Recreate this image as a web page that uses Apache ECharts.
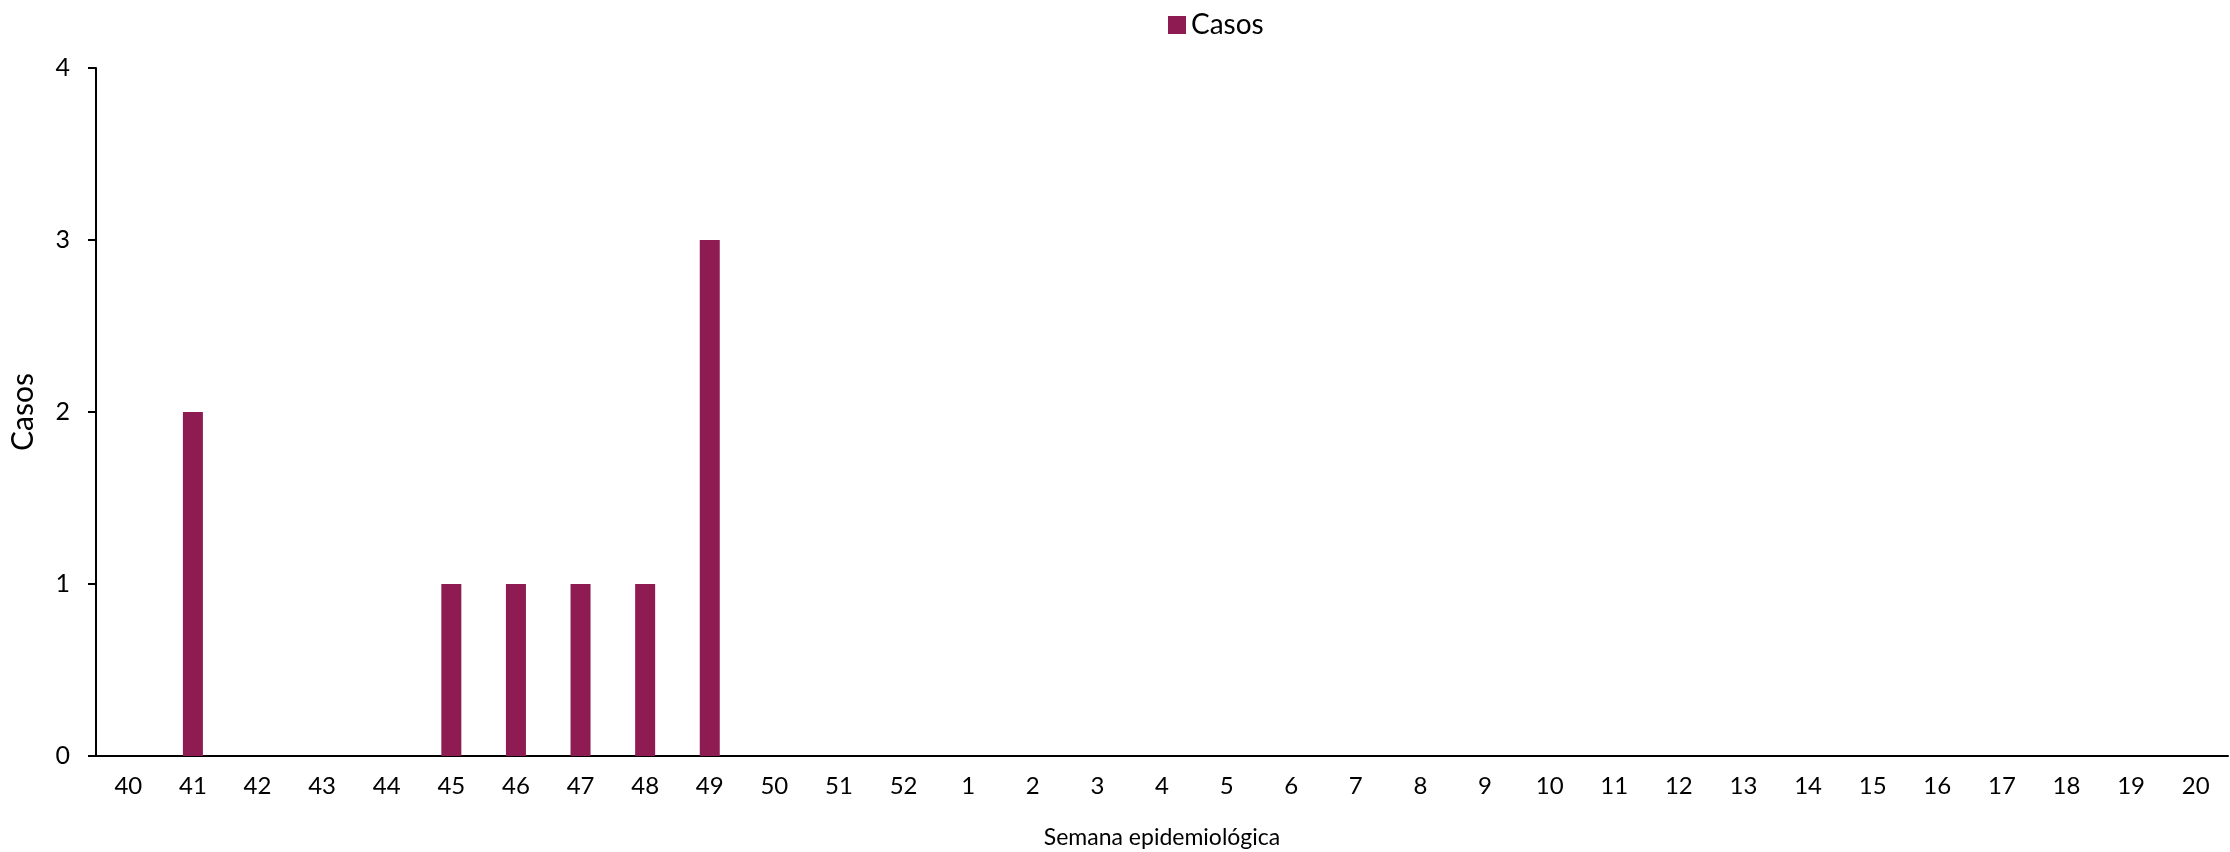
<!DOCTYPE html>
<html><head><meta charset="utf-8">
<script src="https://cdn.jsdelivr.net/npm/echarts@6/dist/echarts.min.js"></script>
<style>html,body{margin:0;padding:0;background:#fff}#c{width:2230px;height:852px}</style>
</head><body><div id="c"></div>
<script>
const weeks = ['40','41','42','43','44','45','46','47','48','49','50','51','52','1','2','3','4','5','6','7','8','9','10','11','12','13','14','15','16','17','18','19','20'];
const casos = [0,2,0,0,0,1,1,1,1,3,0,0,0,0,0,0,0,0,0,0,0,0,0,0,0,0,0,0,0,0,0,0,0];
const yTicks = [0,1,2,3,4];
const FONT = 'Lato';
const chart = echarts.init(document.getElementById('c'));
chart.setOption({
  animation: false,
  textStyle: {fontFamily: FONT, color: '#000'},
  legend: {
    top: 6, left: 1163, itemWidth: 18, itemHeight: 18, itemGap: 10,
    icon: 'rect',
    textStyle: {fontFamily: FONT, fontSize: 28, color: '#000'},
    data: ['Casos']
  },
  grid: {left: 96, right: 2, top: 68, bottom: 96, containLabel: false, outerBoundsMode: 'none'},
  xAxis: [{
    type: 'category', data: weeks, boundaryGap: true,
    name: 'Semana epidemiológica', nameLocation: 'middle', nameGap: 70,
    nameTextStyle: {fontFamily: FONT, fontSize: 23, color: '#000'},
    axisLine: {lineStyle: {color: '#000', width: 2}},
    axisTick: {alignWithLabel: true, length: 7, lineStyle: {color: '#000', width: 2}},
    axisLabel: {fontFamily: FONT, fontSize: 24, color: '#000', margin: 18, interval: 0}
  }, {
    type: 'category', data: weeks, boundaryGap: true, position: 'bottom',
    axisLine: {show: false},
    axisLabel: {show: false},
    axisTick: {show: true, length: 7, lineStyle: {color: '#000', width: 2},
      interval: function (i) { return i === weeks.length; }}
  }],
  yAxis: {
    type: 'value', min: 0, max: 4, interval: 1,
    name: 'Casos', nameLocation: 'middle', nameGap: 58, nameRotate: 90,
    nameTextStyle: {fontFamily: FONT, fontSize: 30, color: '#000'},
    axisLine: {show: true, lineStyle: {color: '#000', width: 2}},
    axisTick: {show: true, length: 8, lineStyle: {color: '#000', width: 2}},
    axisLabel: {fontFamily: FONT, fontSize: 25, color: '#000', margin: 26},
    splitLine: {show: false}
  },
  series: [{
    name: 'Casos', type: 'bar', data: casos, barWidth: 20,
    itemStyle: {color: '#8E1B52'}
  }]
});
</script></body></html>
